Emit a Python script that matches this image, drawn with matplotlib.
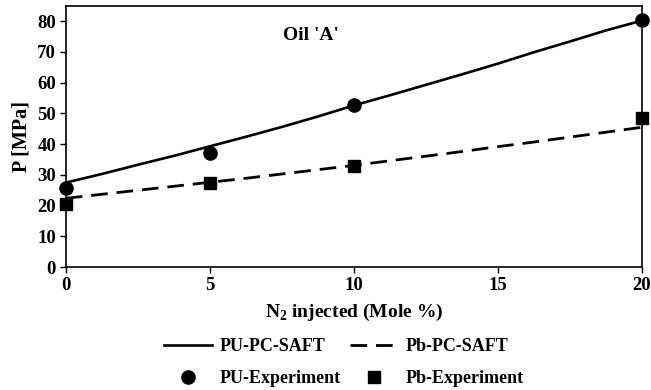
import matplotlib
matplotlib.use("Agg")
import matplotlib.pyplot as plt

plt.rcParams['font.family'] = ['Liberation Serif', 'DejaVu Serif']
plt.rcParams['font.weight'] = 'bold'
plt.rcParams['mathtext.fontset'] = 'custom'
plt.rcParams['mathtext.rm'] = 'Liberation Serif:bold'
plt.rcParams['mathtext.bf'] = 'Liberation Serif:bold'

# experimental points
n2_exp = [0, 5, 10, 20]
pu_exp = [25.8, 37.1, 52.9, 80.5]
pb_exp = [20.7, 27.5, 32.9, 48.5]

# PC-SAFT model curves
n2_model = [0, 1.25, 2.5, 3.75, 5, 6.25, 7.5, 8.75, 10, 11.25, 12.5, 13.75, 15, 16.25, 17.5, 18.75, 20]
pu_model = [27.5, 30.3, 33.3, 36.2, 39.3, 42.4, 45.6, 49.0, 52.6, 55.9, 59.3, 62.7, 66.2, 69.9, 73.4, 77.0, 80.2]
pb_model = [22.4, 23.7, 25.0, 26.3, 27.6, 28.9, 30.3, 31.7, 33.1, 34.6, 36.1, 37.6, 39.2, 40.7, 42.3, 43.9, 45.5]

xticks = [0, 5, 10, 15, 20]
yticks = [0, 10, 20, 30, 40, 50, 60, 70, 80]

fig = plt.figure(figsize=(6.51, 3.9), dpi=100)
ax = fig.add_axes([0.101, 0.315, 0.885, 0.67])

l1, = ax.plot(n2_model, pu_model, color='black', lw=1.9, label='PU-PC-SAFT')
l2, = ax.plot(n2_model, pb_model, color='black', lw=2.0, dashes=(6, 3.2), label='Pb-PC-SAFT')
m1, = ax.plot(n2_exp, pu_exp, 'o', color='black', ms=9.5, label='PU-Experiment', clip_on=False)
m2, = ax.plot(n2_exp, pb_exp, 's', color='black', ms=8.5, label='Pb-Experiment', clip_on=False)

ax.set_xlim(0, 20)
ax.set_ylim(0, 85)
ax.set_xticks(xticks)
ax.set_yticks(yticks)
ax.tick_params(labelsize=13.5, direction='out', length=4, width=1, pad=3)
for s in ax.spines.values():
    s.set_linewidth(1.2)

ax.set_xlabel('N$_2$ injected (Mole %)', fontsize=14, fontweight='bold', labelpad=6)
ax.set_ylabel('P [MPa]', fontsize=14.5, fontweight='bold', labelpad=4)
ax.text(7.55, 75.5, "Oil 'A'", fontsize=14, fontweight='bold', va='center')

fig.legend(handles=[l1, m1, l2, m2], ncol=2, loc='center', bbox_to_anchor=(0.528, 0.07),
           frameon=False, fontsize=13, handlelength=2.7, columnspacing=0.5,
           labelspacing=0.85, handletextpad=0.4)

fig.savefig('out.png', dpi=100)
